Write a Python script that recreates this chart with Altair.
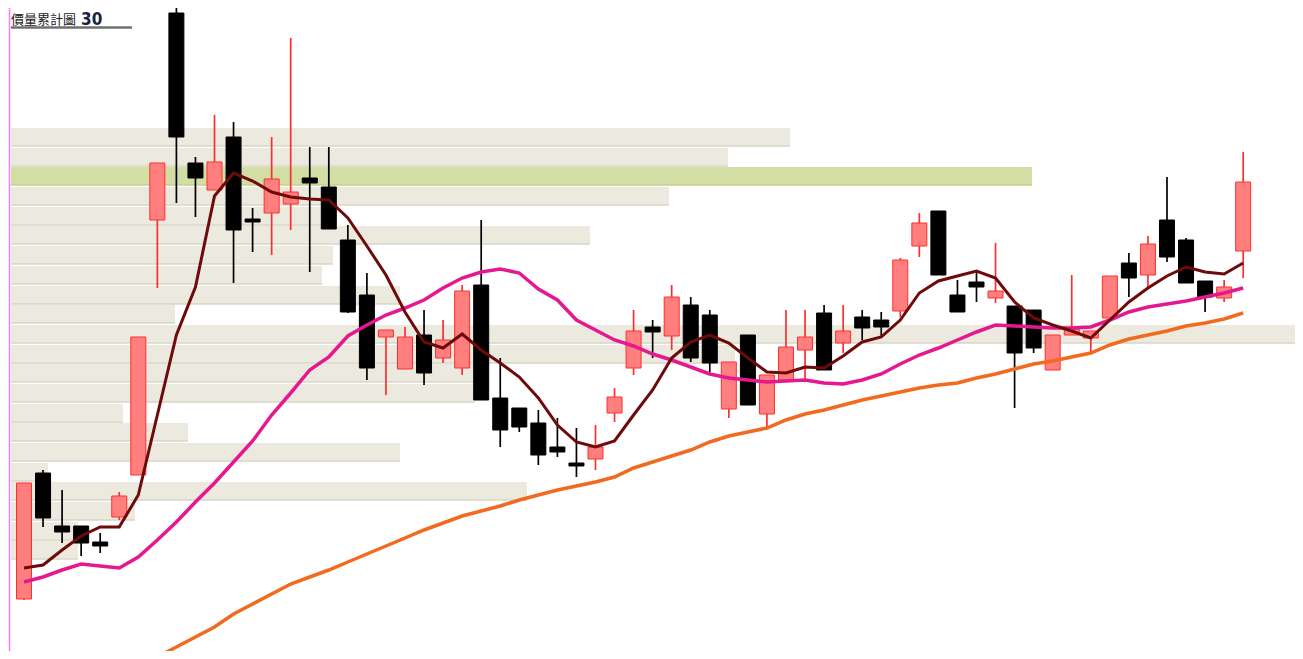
import altair as alt
import pandas as pd

# ---- daily candles (price units) ----
opens = [110.1, 122.7, 117.4, 117.4, 115.8, 118.3, 122.5, 148.0, 168.7, 153.7,
         151.0, 156.3, 148.1, 148.7, 149.6, 152.2, 151.3, 146.0, 140.5, 136.3,
         133.1, 136.5, 134.2, 133.2, 141.5, 130.2, 129.2, 127.7, 125.3, 123.7,
         124.1, 128.7, 133.2, 137.3, 136.4, 139.5, 138.5, 129.1, 136.5, 128.6,
         132.0, 135.0, 138.7, 135.7, 138.3, 138.0, 138.9, 145.4, 148.9, 140.5,
         141.8, 140.2, 139.4, 139.0, 133.0, 136.5, 136.2, 138.2, 143.7, 142.5,
         148.0, 146.0, 141.9, 140.2, 144.9]
highs = [121.7, 123.0, 121.0, 117.4, 116.7, 120.8, 136.3, 153.7, 169.2, 154.3,
         158.5, 157.8, 149.2, 156.3, 166.2, 155.3, 155.3, 147.5, 142.7, 137.0,
         137.3, 139.0, 138.0, 141.5, 148.0, 134.2, 129.2, 129.0, 128.2, 127.2,
         127.5, 131.2, 139.0, 138.0, 141.5, 140.3, 139.0, 133.8, 136.5, 132.5,
         139.0, 139.0, 139.5, 139.5, 139.0, 138.8, 144.2, 148.7, 148.9, 142.0,
         142.8, 145.7, 139.4, 139.0, 136.5, 142.5, 136.9, 142.4, 144.7, 146.4,
         152.3, 146.2, 141.9, 142.0, 154.8]
lows = [110.0, 117.3, 115.7, 114.4, 114.7, 118.0, 122.5, 141.2, 149.7, 148.3,
        151.0, 141.7, 144.8, 144.5, 147.0, 142.8, 147.1, 138.7, 132.0, 130.5,
        133.1, 131.5, 133.7, 132.5, 130.0, 125.3, 126.8, 123.5, 124.3, 122.3,
        123.0, 127.8, 132.5, 134.2, 135.0, 133.8, 132.8, 128.2, 129.5, 127.3,
        132.0, 132.0, 133.0, 134.7, 136.0, 136.3, 138.3, 144.3, 142.5, 138.8,
        139.8, 139.7, 129.2, 134.7, 133.0, 136.5, 134.8, 138.2, 140.3, 141.2,
        143.8, 141.7, 138.8, 139.8, 142.2]
closes = [121.7, 118.2, 116.8, 115.7, 115.4, 120.4, 136.3, 153.7, 156.3, 152.2,
          153.8, 147.0, 147.8, 152.1, 150.8, 151.7, 147.1, 138.8, 133.2, 137.0,
          136.3, 132.7, 136.0, 140.9, 130.0, 127.0, 127.3, 124.5, 124.8, 123.4,
          125.3, 130.3, 136.9, 136.8, 140.3, 134.2, 133.7, 133.8, 129.5, 132.5,
          135.3, 136.3, 133.0, 136.9, 137.2, 137.3, 144.0, 147.7, 142.5, 138.8,
          141.3, 140.9, 134.7, 135.2, 136.5, 137.1, 136.9, 142.4, 142.2, 145.6,
          144.3, 141.7, 140.3, 141.3, 151.8]

# ---- moving averages ----
ma5 = [113.2, 113.5, 115.0, 116.4, 117.3, 117.3, 120.5, 128.5, 136.5, 141.3,
       150.4, 152.7, 151.9, 150.8, 150.3, 150.1, 150.0, 148.2, 145.4, 142.5,
       138.8, 135.8, 135.2, 136.6, 135.0, 133.7, 132.3, 130.2, 127.5, 125.8,
       125.3, 125.9, 128.5, 131.0, 134.2, 135.8, 136.5, 135.7, 134.2, 132.8,
       132.7, 133.3, 133.2, 134.4, 135.8, 136.3, 138.0, 140.7, 141.9, 142.4,
       142.9, 142.2, 139.8, 138.2, 137.5, 136.9, 136.2, 138.0, 139.8, 141.2,
       142.4, 143.3, 142.8, 142.6, 143.7]
ma20 = [111.8, 112.3, 113.0, 113.6, 113.4, 113.2, 114.3, 116.0, 117.8, 119.8,
        121.7, 123.8, 125.9, 128.5, 130.7, 133.0, 134.3, 136.4, 137.5, 138.5,
        139.2, 140.0, 141.2, 142.2, 142.8, 143.1, 142.7, 141.1, 140.0, 138.0,
        137.0, 136.0, 135.4, 134.6, 134.0, 133.3, 132.6, 132.2, 132.0, 131.8,
        131.9, 132.0, 131.7, 131.6, 132.0, 132.6, 133.6, 134.5, 135.2, 136.0,
        136.8, 137.5, 137.4, 137.3, 137.2, 137.2, 137.3, 138.0, 138.8, 139.3,
        139.6, 139.9, 140.3, 140.7, 141.2]
ma60_start = 6
ma60 = [103.2, 104.3, 105.3, 106.3, 107.3, 108.6, 109.6, 110.6, 111.6, 112.3,
        113.0, 113.8, 114.6, 115.4, 116.2, 117.0, 117.7, 118.4, 118.9, 119.4,
        120.0, 120.5, 121.0, 121.4, 121.8, 122.3, 123.2, 123.8, 124.4, 125.0,
        125.8, 126.4, 126.8, 127.2, 128.0, 128.6, 129.0, 129.5, 130.0, 130.4,
        130.8, 131.2, 131.5, 131.7, 132.2, 132.6, 133.1, 133.6, 133.9, 134.3,
        134.7, 135.5, 136.1, 136.5, 136.9, 137.4, 137.7, 138.1, 138.7]

# ---- volume by price ----
band_high = [157.2, 155.2, 153.3, 151.3, 149.3, 147.4, 145.4, 143.4, 141.4, 139.5, 137.5,
             135.5, 133.6, 131.6, 129.6, 127.7, 125.7, 123.7, 121.8, 119.8, 117.8, 115.9]
band_low = [155.4, 153.4, 151.5, 149.5, 147.5, 145.6, 143.6, 141.6, 139.6, 137.7, 135.7,
            133.7, 131.8, 129.8, 127.8, 125.9, 123.9, 121.9, 120.0, 118.0, 116.0, 114.1]
band_vol = [779, 717, 1021, 658, 324, 579, 322, 311, 389, 164, 1300,
            724, 464, 464, 112, 177, 389, 37, 516, 124, 67, 67]
band_mark = [0, 0, 1, 0, 0, 0, 0, 0, 0, 0, 0,
             0, 0, 0, 0, 0, 0, 0, 0, 0, 0, 0]

title_main = "價量累計圖"
title_num = "30"

W, H = 1287, 643

candles = pd.DataFrame({
    "i": list(range(len(opens))),
    "open": opens, "high": highs, "low": lows, "close": closes,
})
candles["dir"] = ["up" if c >= o else "down" for o, c in zip(opens, closes)]

lines5 = pd.DataFrame({"i": list(range(len(ma5))), "v": ma5})
lines20 = pd.DataFrame({"i": list(range(len(ma20))), "v": ma20})
lines60 = pd.DataFrame({"i": [ma60_start + k for k in range(len(ma60))], "v": ma60})

bands = pd.DataFrame({"lo": band_low, "hi": band_high, "vol": band_vol,
                      "base": [0] * len(band_vol),
                      "kind": ["hot" if m else "norm" for m in band_mark]})

yscale = alt.Scale(domain=[104.9, 169.2], nice=False, zero=False, padding=0)
xscale = alt.Scale(domain=[-0.84, 66.72], nice=False, zero=False, padding=0)
vscale = alt.Scale(domain=[-3, 1284], nice=False, zero=False, padding=0)

band_rect = alt.Chart(bands).mark_rect(clip=True).encode(
    x=alt.X("base:Q", scale=vscale, axis=None),
    x2="vol:Q",
    y=alt.Y("lo:Q", scale=yscale, axis=None),
    y2="hi:Q",
    fill=alt.Fill("kind:N", scale=alt.Scale(domain=["norm", "hot"],
                                            range=["#ECEADF", "#D2DEA3"]), legend=None),
)
band_edge = alt.Chart(bands).mark_rule(strokeWidth=1.3, clip=True).encode(
    x=alt.X("base:Q", scale=vscale, axis=None),
    x2="vol:Q",
    y=alt.Y("lo:Q", scale=yscale, axis=None),
    stroke=alt.Stroke("kind:N", scale=alt.Scale(domain=["norm", "hot"],
                                                range=["#D9D6C8", "#C3D092"]), legend=None),
)

wicks = alt.Chart(candles).mark_rule(strokeWidth=1.7).encode(
    x=alt.X("i:Q", scale=xscale, axis=None),
    y=alt.Y("low:Q", scale=yscale, axis=None),
    y2="high:Q",
    stroke=alt.Stroke("dir:N", scale=alt.Scale(domain=["up", "down"],
                                               range=["#FF2E2E", "#000000"]), legend=None),
)
bodies = alt.Chart(candles).mark_bar(size=15, strokeWidth=1).encode(
    x=alt.X("i:Q", scale=xscale, axis=None),
    y=alt.Y("open:Q", scale=yscale, axis=None),
    y2="close:Q",
    fill=alt.Fill("dir:N", scale=alt.Scale(domain=["up", "down"],
                                           range=["#FF7F7F", "#000000"]), legend=None),
    stroke=alt.Stroke("dir:N", scale=alt.Scale(domain=["up", "down"],
                                               range=["#FF2E2E", "#000000"]), legend=None),
)

def ma_line(df, color, width):
    return alt.Chart(df).mark_line(color=color, strokeWidth=width, clip=True).encode(
        x=alt.X("i:Q", scale=xscale, axis=None),
        y=alt.Y("v:Q", scale=yscale, axis=None),
    )

l60 = ma_line(lines60, "#F26A1E", 3.5)
l20 = ma_line(lines20, "#E6188F", 3.5)
l5 = ma_line(lines5, "#6E0A0A", 3)

border = alt.Chart(pd.DataFrame({"a": [0]})).mark_rule(color="#FF77FF", strokeWidth=1.5).encode(
    x=alt.value(1.5), y=alt.value(0), y2=alt.value(H))

t1 = alt.Chart(pd.DataFrame({"t": [title_main]})).mark_text(
    align="left", baseline="alphabetic", font="Noto Sans CJK TC", fontSize=13,
    color="#222222").encode(x=alt.value(3), y=alt.value(15.5), text="t:N")
t2 = alt.Chart(pd.DataFrame({"t": [title_num]})).mark_text(
    align="left", baseline="alphabetic", font="DejaVu Sans Condensed", fontSize=17,
    fontWeight="bold", color="#1A2340").encode(x=alt.value(73), y=alt.value(16.5), text="t:N")
uline = alt.Chart(pd.DataFrame({"a": [0]})).mark_rule(color="#707070", strokeWidth=2.5).encode(
    x=alt.value(3), x2=alt.value(124), y=alt.value(19.5))

chart = alt.layer(
    band_rect, band_edge, wicks, bodies, l60, l20, l5, border, uline, t1, t2
).resolve_scale(x="independent", fill="independent", stroke="independent").properties(
    width=W, height=H, padding=0, autosize="none", background="white"
).configure_view(stroke=None)

chart.save("out.html", embed_options={"renderer": "svg", "actions": False})
